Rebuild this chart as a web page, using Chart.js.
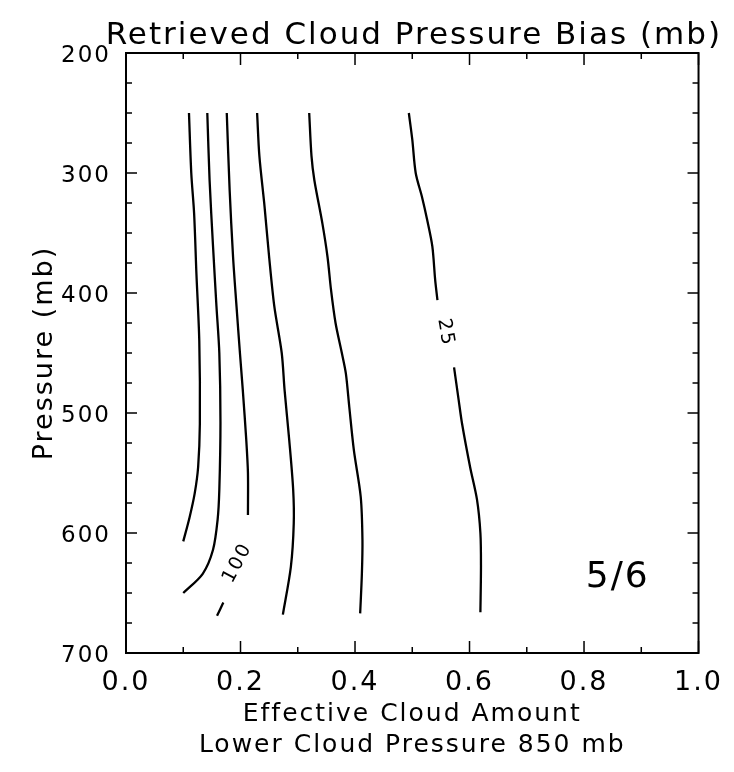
<!DOCTYPE html>
<html>
<head>
<meta charset="utf-8">
<title>Retrieved Cloud Pressure Bias</title>
<script src="https://cdn.jsdelivr.net/npm/chart.js@4.4.1/dist/chart.umd.min.js"></script>
<style>
    body { margin: 0; background: #fff; }
    #wrap { width: 734px; height: 772px; }
</style>
</head>
<body>
<div id="wrap"><canvas id="biaschart"></canvas></div>
<script>
// contour lines as [effective cloud amount, pressure (mb)]
const contour1 = [[0.110, 250], [0.114, 300], [0.119, 334], [0.123, 384], [0.128, 440], [0.129, 509], [0.126, 545], [0.120, 567], [0.111, 587], [0.100, 607]];
const contour2 = [[0.142, 250], [0.146, 306], [0.152, 361], [0.158, 411], [0.163, 450], [0.165, 508], [0.163, 564], [0.160, 589], [0.152, 614], [0.134, 634], [0.100, 650]];
const contour3 = [[0.176, 250], [0.181, 314], [0.187, 370], [0.193, 411], [0.199, 450], [0.204, 481], [0.210, 522], [0.213, 550], [0.213, 585]];
const contour3b = [[0.170, 658], [0.159, 669]];
const contour4 = [[0.229, 250], [0.233, 286], [0.242, 328], [0.250, 370], [0.259, 411], [0.272, 450], [0.277, 481], [0.285, 522], [0.292, 564], [0.293, 592], [0.288, 628], [0.274, 668]];
const contour5 = [[0.320, 250], [0.324, 286], [0.329, 306], [0.343, 342], [0.352, 370], [0.358, 397], [0.366, 425], [0.377, 450], [0.384, 467], [0.390, 495], [0.398, 531], [0.410, 570], [0.413, 606], [0.412, 634], [0.409, 667]];
const contour6 = [[0.494, 250], [0.500, 272], [0.506, 300], [0.517, 320], [0.526, 339], [0.535, 361], [0.540, 389], [0.544, 406]];
const contour6b = [[0.573, 462], [0.581, 489], [0.587, 509], [0.601, 545], [0.613, 572], [0.619, 600], [0.620, 628], [0.619, 666]];

// contour value labels
const labelText = ['100', '25'];
const labelAmount = [0.195, 0.558];
const labelPressure = [625, 433];
const labelAngle = [-62, 80];

const panelText = '5/6';
const panelAmount = 0.859;
const panelPressure = 637;

// axis ticks
const xMajorTicks = [0.0, 0.2, 0.4, 0.6, 0.8, 1.0];
const xMinorTicks = [0.1, 0.3, 0.5, 0.7, 0.9];
const yMajorTicks = [200, 300, 400, 500, 600, 700];
const yMinorTicks = [225, 250, 275, 325, 350, 375, 425, 450, 475, 525, 550, 575, 625, 650, 675];

const FONT = "'DejaVu Sans', sans-serif";

function toPoints(line) {
    return line.map(pt => ({ x: pt[0], y: pt[1] }));
}

function contourDataset(line) {
    return {
        data: toPoints(line),
        showLine: true,
        borderColor: '#000',
        borderWidth: 2.3,
        pointRadius: 0,
        tension: 0.3,
        fill: false
    };
}

// box, inward ticks and the text inside the plot
const framePlugin = {
    id: 'frame',
    beforeDraw(chart) {
        chart.ctx.letterSpacing = '2px';
    },
    afterDatasetsDraw(chart) {
        const ctx = chart.ctx;
        const area = chart.chartArea;
        const xs = chart.scales.x;
        const ys = chart.scales.y;

        ctx.save();
        ctx.strokeStyle = '#000';
        ctx.lineWidth = 1.5;
        ctx.beginPath();
        const xtick = (v, len) => {
            const px = xs.getPixelForValue(v);
            ctx.moveTo(px, area.bottom); ctx.lineTo(px, area.bottom - len);
            ctx.moveTo(px, area.top); ctx.lineTo(px, area.top + len);
        };
        const ytick = (v, len) => {
            const py = ys.getPixelForValue(v);
            ctx.moveTo(area.left, py); ctx.lineTo(area.left + len, py);
            ctx.moveTo(area.right, py); ctx.lineTo(area.right - len, py);
        };
        xMajorTicks.forEach(v => xtick(v, 12));
        xMinorTicks.forEach(v => xtick(v, 6));
        yMajorTicks.forEach(v => ytick(v, 11));
        yMinorTicks.forEach(v => ytick(v, 6));
        ctx.stroke();

        ctx.lineWidth = 2;
        ctx.strokeRect(area.left, area.top, area.right - area.left, area.bottom - area.top);

        ctx.fillStyle = '#000';
        ctx.textAlign = 'center';
        ctx.textBaseline = 'middle';
        ctx.font = '19px ' + FONT;
        labelText.forEach((t, i) => {
            ctx.save();
            ctx.translate(xs.getPixelForValue(labelAmount[i]), ys.getPixelForValue(labelPressure[i]));
            ctx.rotate(labelAngle[i] * Math.PI / 180);
            ctx.fillText(t, 0, 0);
            ctx.restore();
        });

        ctx.font = '36px ' + FONT;
        ctx.fillText(panelText, xs.getPixelForValue(panelAmount), ys.getPixelForValue(panelPressure));
        ctx.restore();
    }
};

new Chart(document.getElementById('biaschart'), {
    type: 'scatter',
    data: {
        datasets: [contour1, contour2, contour3, contour3b, contour4, contour5, contour6, contour6b].map(contourDataset)
    },
    options: {
        responsive: true,
        maintainAspectRatio: false,
        animation: false,
        devicePixelRatio: 1,
        layout: { padding: { left: 0, right: 12, top: 0, bottom: 0 } },
        plugins: {
            legend: { display: false },
            tooltip: { enabled: false },
            title: {
                display: true,
                text: 'Retrieved Cloud Pressure Bias (mb)',
                align: 'end',
                color: '#000',
                font: { family: FONT, size: 31, weight: 'normal', lineHeight: 1 },
                padding: { top: 20, bottom: 2 }
            }
        },
        scales: {
            x: {
                type: 'linear',
                min: 0,
                max: 1,
                grid: { display: false, drawTicks: false },
                border: { display: false },
                ticks: {
                    stepSize: 0.2,
                    padding: 14,
                    color: '#000',
                    font: { family: FONT, size: 27 },
                    callback: v => v.toFixed(1)
                },
                title: {
                    display: true,
                    text: ['Effective Cloud Amount', 'Lower Cloud Pressure 850 mb'],
                    color: '#000',
                    font: { family: FONT, size: 25, lineHeight: 1.24 },
                    padding: { top: 0, bottom: 11 }
                },
                afterFit: s => { s.height = 119; }
            },
            y: {
                type: 'linear',
                reverse: true,
                min: 200,
                max: 700,
                grid: { display: false, drawTicks: false },
                border: { display: false },
                ticks: {
                    stepSize: 100,
                    padding: 15,
                    labelOffset: 3,
                    color: '#000',
                    font: { family: FONT, size: 23 }
                },
                title: {
                    display: true,
                    text: 'Pressure (mb)',
                    color: '#000',
                    font: { family: FONT, size: 27, lineHeight: 1.2 },
                    padding: { top: 29, bottom: 0 }
                },
                afterFit: s => { s.width = 126; }
            },
            yr: {
                type: 'linear',
                position: 'right',
                grid: { display: false, drawTicks: false },
                border: { display: false },
                ticks: { display: false },
                afterFit: s => { s.width = 21; }
            }
        }
    },
    plugins: [framePlugin]
});
</script>
</body>
</html>
